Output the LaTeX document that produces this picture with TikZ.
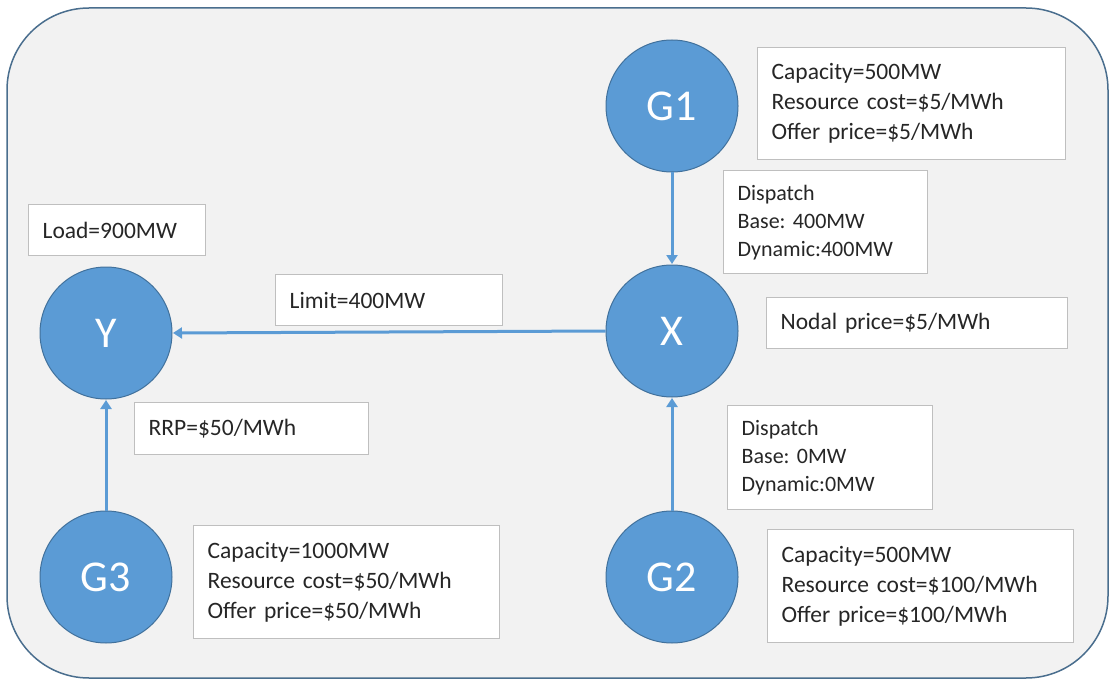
\documentclass[tikz,border=0pt]{standalone}
\usepackage{fontspec}
\setmainfont[WordSpace=0.85]{Carlito}
\frenchspacing
\usetikzlibrary{arrows.meta}
\definecolor{nodeblue}{HTML}{5B9BD5}
\definecolor{nodeedge}{HTML}{41719C}
\definecolor{framefill}{HTML}{F2F2F2}
\definecolor{frameedge}{HTML}{4A6E8E}
\definecolor{boxgray}{HTML}{BFBFBF}
\definecolor{txt}{HTML}{262626}
\tikzset{
  bus/.style={circle, fill=nodeblue, draw=nodeedge, line width=1pt,
    minimum size=132pt, inner sep=0pt, text=white,
    font=\fontsize{44}{44}\selectfont},
  infobox/.style={draw=boxgray, fill=white, line width=1.3pt, align=left,
    anchor=north west, inner xsep=14pt, inner ysep=0pt, text=txt,
    font=\fontsize{23.5}{30}\selectfont},
  smallbox/.style={infobox, font=\fontsize{22}{28}\selectfont},
  link/.style={draw=nodeblue, line width=3pt,
    -{Triangle[length=9pt,width=11pt]}, shorten >=0.5pt}
}
\begin{document}
\begin{tikzpicture}[x=1pt,y=-1pt]
\useasboundingbox (0,0) rectangle (1112,682);
% outer frame
\draw[fill=framefill, draw=frameedge, line width=1.5pt, rounded corners=82pt]
  (7,8) rectangle (1108,678);

% buses and generators
\node[bus] (G1) at (672,106) {G1};
\node[bus] (X)  at (672,331) {X};
\node[bus] (G2) at (672,577) {G2};
\node[bus] (Y)  at (106,333) {Y};
\node[bus] (G3) at (106,577) {G3};

% flows
\draw[link] (G1) -- (X);
\draw[link] (G2) -- (X);
\draw[link] (G3) -- (Y);
\draw[link] (X.west) -- (Y.east);

% annotations
\node[infobox, text width=280pt, minimum height=112pt] (g1info) at (757,47)
  {Capacity=500MW\\Resource cost=\$5/MWh\\Offer price=\$5/MWh};
\node[smallbox, text width=176pt, minimum height=103pt] (d1) at (723,170)
  {Dispatch\\Base: 400MW\\Dynamic:400MW};
\node[infobox, text width=273pt, minimum height=51pt] (nodal) at (766,297)
  {Nodal price=\$5/MWh};
\node[smallbox, text width=177pt, minimum height=104pt] (d2) at (727,405)
  {Dispatch\\Base: 0MW\\Dynamic:0MW};
\node[infobox, text width=278pt, minimum height=113pt] (g2info) at (767,529)
  {Capacity=500MW\\Resource cost=\$100/MWh\\Offer price=\$100/MWh};
\node[infobox, text width=278pt, minimum height=113pt] (g3info) at (193,525)
  {Capacity=1000MW\\Resource cost=\$50/MWh\\Offer price=\$50/MWh};
\node[infobox, text width=149pt, minimum height=51pt] (load) at (28,204)
  {Load=900MW};
\node[infobox, text width=199pt, minimum height=51pt] (limit) at (275,274)
  {Limit=400MW};
\node[infobox, text width=206pt, minimum height=52pt] (rrp) at (134,402)
  {RRP=\$50/MWh};
\end{tikzpicture}
\end{document}
